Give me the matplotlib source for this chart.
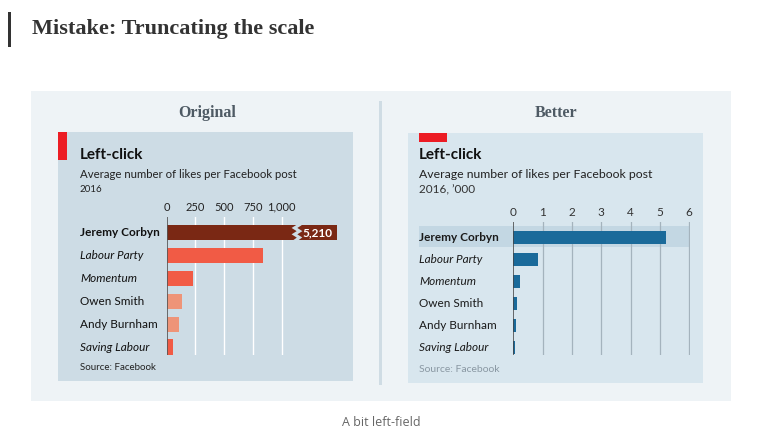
import matplotlib
matplotlib.use("Agg")
import matplotlib.pyplot as plt
from matplotlib.patches import Rectangle
import matplotlib.transforms as mtransforms

W, H = 762, 444

# data
names = ["Jeremy Corbyn", "Labour Party", "Momentum", "Owen Smith", "Andy Burnham", "Saving Labour"]
likes = [5210, 840, 230, 135, 105, 55]
is_group = [False, True, True, False, False, True]
left_ticks = [0, 250, 500, 750, 1000]
left_tick_labels = ["0", "250", "500", "750", "1,000"]
right_ticks = [0, 1, 2, 3, 4, 5, 6]

# styles
left_colors = ["#7a2814", "#f15b45", "#f15b45", "#ee9478", "#ee9478", "#f15b45"]
blue = "#1a6a9a"
sans = ["Lato", "DejaVu Sans"]
serif = ["Liberation Serif", "DejaVu Serif"]

fig = plt.figure(figsize=(W / 100, H / 100), dpi=100)
fig.patch.set_facecolor("white")


def fx(x):
    return x / W


def fy(y):
    return 1 - y / H


def box(x0, y0, x1, y1, color, z=0):
    fig.patches.append(Rectangle((fx(x0), fy(y1)), (x1 - x0) / W, (y1 - y0) / H,
                                 transform=fig.transFigure, facecolor=color,
                                 edgecolor="none", zorder=z))


def txt(x, y, s, **kw):
    kw.setdefault("family", sans)
    kw.setdefault("va", "center")
    kw.setdefault("zorder", 6)
    return fig.text(fx(x), fy(y), s, **kw)


def make_ax(x0, y0, x1, y1):
    ax = fig.add_axes([fx(x0), fy(y1), (x1 - x0) / W, (y1 - y0) / H])
    ax.patch.set_visible(False)
    ax.set_zorder(4)
    for s in ax.spines.values():
        s.set_visible(False)
    return ax


# page header
box(8, 12, 11, 47, "#333333")
txt(32, 29, "Mistake: Truncating the scale", family=serif, fontsize=16,
    fontweight="bold", color="#333333")

# outer panel and divider
box(31, 91, 731, 401, "#eef3f6")
box(379, 101, 382, 385, "#cfdce4", z=1)
txt(207, 113, "Original", family=serif, fontsize=11.5, fontweight="bold",
    color="#4e5a64", ha="center")
txt(556, 113, "Better", family=serif, fontsize=11.5, fontweight="bold",
    color="#4e5a64", ha="center")
txt(381, 422, "A bit left-field", family=["Open Sans", "DejaVu Sans"],
    fontsize=9, color="#666666", ha="center")

# ---------- left: original ----------
box(58, 132, 353, 381, "#cddce5", z=1)
box(58, 132, 67, 160, "#ec1c24", z=2)
txt(80, 155, "Left-click", fontsize=11, fontweight="bold", color="#111111")
txt(80, 174, "Average number of likes per Facebook post", fontsize=8.2, color="#222222")
txt(80, 189, "2016", fontsize=7, color="#222222")
txt(80, 368, "Source: Facebook", fontsize=7, color="#222222")

px_per = 0.115
zero_l = 166.7
cap = (337 - zero_l) / px_per
brk = (297 - zero_l) / px_per
axl = make_ax(zero_l, 217, 345, 355)
axl.set_xlim(0, (345 - zero_l) / px_per)
axl.set_ylim(5.35, -0.70)
rows = range(len(names))
axl.barh(rows, [min(v, cap) for v in likes], height=0.66, color=left_colors, zorder=3)
for t in left_ticks[1:]:
    axl.axvline(t, color="white", lw=1, zorder=1)
axl.axvline(0, color="#555555", lw=1.2, zorder=4)
axl.xaxis.tick_top()
axl.set_xticks(left_ticks, left_tick_labels, family=sans, fontsize=8, color="#222222")
axl.tick_params(axis="x", length=0, pad=3)
axl.set_yticks([])
# break marker on the truncated bar
zz = 22
ys = [-0.36, -0.22, -0.08, 0.06, 0.20, 0.36]
xs = [brk + (zz if i % 2 == 0 else -zz) for i in range(len(ys))]
axl.plot(xs, ys, color="#cddce5", lw=2.2, zorder=5, solid_joinstyle="miter")
axl.text(brk + 45, 0, f"{likes[0]:,}", family=sans, fontsize=8.5, fontweight="bold",
         color="white", va="center", ha="left", zorder=6)
tr = mtransforms.blended_transform_factory(fig.transFigure, axl.transData)
for i, (n, g) in enumerate(zip(names, is_group)):
    fig.text(fx(80), i, n, transform=tr, family=sans, fontsize=8.5, va="center",
             fontstyle="italic" if g else "normal",
             fontweight="bold" if i == 0 else "normal", color="#111111", zorder=6)

# ---------- right: better ----------
box(408, 133, 703, 383, "#d8e6ee", z=1)
box(419, 133, 447, 142, "#ec1c24", z=2)
box(419, 226, 689, 247, "#c3d7e3", z=2)
txt(419, 155, "Left-click", fontsize=11, fontweight="bold", color="#111111")
txt(419, 174, "Average number of likes per Facebook post", fontsize=8.8, color="#222222")
txt(419, 190, "2016, \u2019000", fontsize=8.5, color="#333333")
txt(419, 369, "Source: Facebook", fontsize=7.5, color="#8a98a3")

zero_r = 513.3
ppu = (689.3 - zero_r) / 6
axr = make_ax(zero_r, 222, 690, 355)
axr.set_xlim(0, (690 - zero_r) / ppu)
axr.set_ylim(5.32, -0.68)
axr.barh(rows, [v / 1000 for v in likes], height=0.58, color=blue, zorder=3)
for t in right_ticks[1:]:
    axr.axvline(t, color="#a4b3bd", lw=0.9, zorder=1)
axr.axvline(0, color="#444444", lw=1.1, zorder=4)
axr.xaxis.tick_top()
axr.set_xticks(right_ticks, [str(t) for t in right_ticks], family=sans, fontsize=8.5,
               color="#333333")
axr.tick_params(axis="x", length=0, pad=3)
axr.set_yticks([])
tr = mtransforms.blended_transform_factory(fig.transFigure, axr.transData)
for i, (n, g) in enumerate(zip(names, is_group)):
    fig.text(fx(419), i, n, transform=tr, family=sans, fontsize=8.5, va="center",
             fontstyle="italic" if g else "normal",
             fontweight="bold" if i == 0 else "normal", color="#1a1a1a", zorder=6)

fig.savefig("out.png", dpi=100)
